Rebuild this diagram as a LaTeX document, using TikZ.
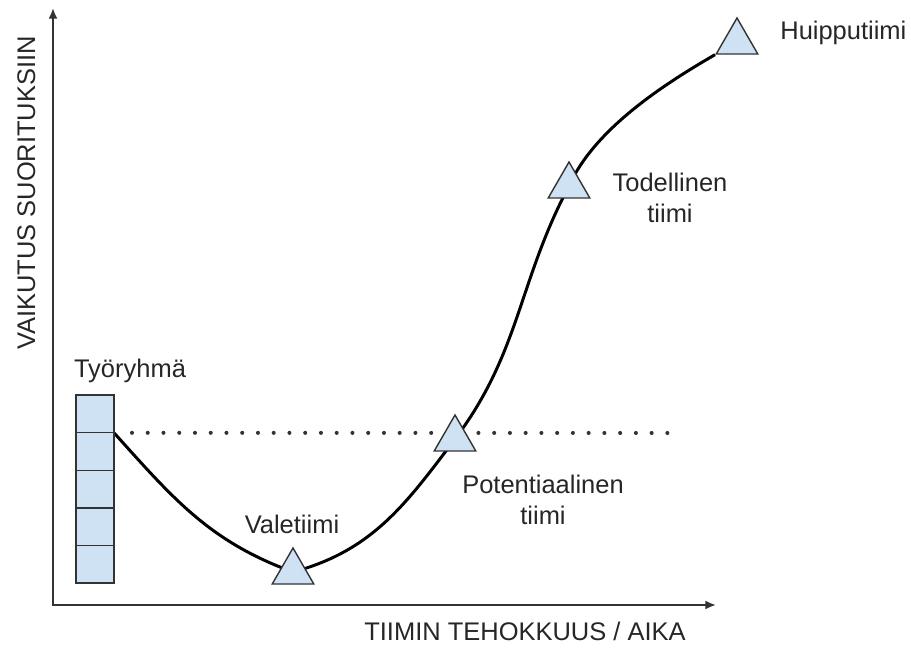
\documentclass[tikz,border=0pt]{standalone}
\usepackage{fontspec}
\setmainfont{Liberation Sans}
\usepackage{xcolor}
\usepackage{tikz}
\usetikzlibrary{positioning,shapes.geometric,backgrounds,arrows.meta}
\definecolor{cellblue}{HTML}{CFE2F3}
\definecolor{edgegray}{HTML}{333333}

\begin{document}
\begin{tikzpicture}[x=0.02cm, y=0.02cm,
    font=\fontsize{14.5}{17.9}\selectfont,
    cell/.style={draw=edgegray, fill=cellblue, line width=0.8pt,
        minimum width=0.76cm, minimum height=0.752cm, inner sep=0, outer sep=0},
    stage/.style={regular polygon, regular polygon sides=3, draw=edgegray,
        fill=cellblue, line width=0.8pt, minimum size=0.96cm, inner sep=0},
    lbl/.style={text=black!85, inner sep=0, align=center}]
        \useasboundingbox (0,0) rectangle (911,652);

        % Draw axes
        \coordinate (o) at (53,47);
        \coordinate (xend) at (716,47);
        \coordinate (yend) at (53,644);
        \draw[{Latex[length=6pt,width=5pt]}-{Latex[length=6pt,width=5pt]}, line width=1.1pt, edgegray]
            (yend) -- (o) -- (xend);
        \node[lbl, anchor=base] (xlabel) at (525,12) {TIIMIN TEHOKKUUS / AIKA};
        \node[lbl, anchor=base, rotate=90] (ylabel) at (35,459) {VAIKUTUS SUORITUKSIIN};

        % Left: work group stack
        \node[cell] (box1) at (95,238) {};
        \node[cell, below=0pt of box1] (box2) {};
        \node[cell, below=0pt of box2] (box3) {};
        \node[cell, below=0pt of box3] (box4) {};
        \node[cell, below=0pt of box4] (box5) {};
        \node[lbl, anchor=base] (group) at (130,274) {Työryhmä};

        % Team stages
        \node[stage] (vale) at (293,80) {};
        \node[stage] (pot) at (455,213) {};
        \node[stage] (tod) at (569,466) {};
        \node[stage] (huippu) at (737,610) {};
        \node[lbl, anchor=base] (valelabel) at (292,119) {Valetiimi};
        \node[lbl] (potlabel) at (543,152) {Potentiaalinen\\tiimi};
        \node[lbl] (todlabel) at (670,454) {Todellinen\\tiimi};
        \node[lbl, anchor=base west] (huippulabel) at (780,612) {Huipputiimi};

        % Performance curve and reference level
        \coordinate (dotend) at (672,219);
        \begin{scope}[on background layer]
            \draw[edgegray, line width=2.3pt, line cap=round, dash pattern=on 0pt off 0.315cm]
                ([xshift=0.36cm]box1.south east) -- (dotend);
            \draw[line width=1.7pt] (box1.south east) to[out=-48, in=160] (vale.center)
                to[out=15, in=233] (pot.center)
                to[out=53, in=242] (tod.center)
                to[out=66, in=210, looseness=0.8] (huippu.corner 2);
        \end{scope}

    \end{tikzpicture}
\end{document}
